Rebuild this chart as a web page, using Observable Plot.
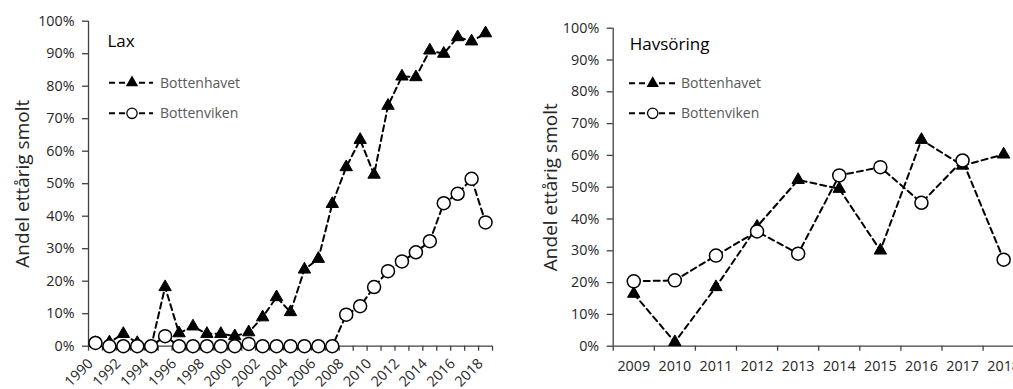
<!DOCTYPE html>
<html><head><meta charset="utf-8">
<script src="https://cdn.jsdelivr.net/npm/d3@7"></script>
<script src="https://cdn.jsdelivr.net/npm/@observablehq/plot@0.6"></script>
<style>
html,body{margin:0;padding:0;background:#fff;overflow:hidden;}
#wrap{position:relative;width:1013px;height:389px;overflow:hidden;background:#fff;}
#left{position:absolute;left:0;top:0;width:510px;}
#right{position:absolute;left:510px;top:0;width:520px;}
#wrap svg{max-width:none !important;}
</style></head><body>
<div id="wrap"><div id="left"></div><div id="right"></div></div>
<script>
// ---------- data ----------
const laxYears = [1990,1991,1992,1993,1994,1995,1996,1997,1998,1999,2000,2001,2002,2003,2004,2005,2006,2007,2008,2009,2010,2011,2012,2013,2014,2015,2016,2017,2018];
const laxBottenhavet = [1,1.2,3.8,1,0,18.2,4,6.1,3.8,3.8,3.1,4.3,8.9,15.1,10.5,23.6,26.9,43.8,55.1,63.5,52.8,74,83,82.8,91,90,95.1,93.8,96.3];
const laxBottenviken = [1,0,0,0,0,3.1,0,0,0,0,0,0.7,0,0,0,0,0,0,9.7,12.3,18.2,23.1,26.1,28.9,32.3,44,46.9,51.5,38.1];
const laxTickLabels = [1990,1992,1994,1996,1998,2000,2002,2004,2006,2008,2010,2012,2014,2016,2018];

const havYears = [2009,2010,2011,2012,2013,2014,2015,2016,2017,2018];
const havBottenhavet = [16.5,1.3,18.6,37.6,52.3,49.5,30.1,64.9,56.8,60.3];
const havBottenviken = [20.4,20.7,28.5,36.1,29.1,53.7,56.3,45.1,58.4,27.2];
const havTickLabels = havYears;

const yTicks = [0,10,20,30,40,50,60,70,80,90,100];
const seriesNames = ["Bottenhavet","Bottenviken"];
const yLabel = "Andel ettårig smolt";

// ---------- styles ----------
const FONT = "'Open Sans', sans-serif";
const AXIS = "#404040";
const TXT = "#262626";
const DASH = "6,4";
const TRI_R = 4.6, CIRC_R = 6.5;

function panel(o) {
  const rowsA = o.years.map((yr, i) => ({year: yr, v: o.a[i]}));
  const rowsB = o.years.map((yr, i) => ({year: yr, v: o.b[i]}));
  const bounds = o.years.map(yr => yr - 0.5).concat([o.years[o.years.length - 1] + 0.5]);
  const plot = Plot.plot({
    width: o.width, height: 389,
    marginLeft: o.ml, marginRight: o.mr, marginTop: o.mt, marginBottom: 389 - 345.7,
    style: {fontFamily: FONT, fontSize: "14.3px", color: TXT, background: "white", maxWidth: "none"},
    x: {type: "linear", domain: [bounds[0], bounds[bounds.length - 1]]},
    y: {domain: [0, 100]},
    marks: [
      Plot.ruleY([0], {stroke: AXIS, strokeWidth: 1.3}),
      Plot.ruleX([bounds[0]], {stroke: AXIS, strokeWidth: 1.3}),
      Plot.axisY({ticks: yTicks, tickFormat: d => d + "%", tickSize: 6, tickPadding: 8, label: null, stroke: AXIS, strokeWidth: 1.3}),
      Plot.axisX({ticks: bounds, tickFormat: () => "", tickSize: 5, label: null, stroke: AXIS, strokeWidth: 1.3}),
      o.rotate
        ? Plot.axisX({ticks: o.labels, tickFormat: d => String(d), tickSize: 0, tickPadding: 10, dx: -5, dy: 5, tickRotate: -45, label: null})
        : Plot.axisX({ticks: o.labels, tickFormat: d => String(d), tickSize: 0, tickPadding: 14, dy: 1, label: null}),
      Plot.line(rowsA, {x: "year", y: "v", stroke: "black", strokeWidth: 2, strokeDasharray: DASH}),
      Plot.dot(rowsA, {x: "year", y: "v", symbol: "triangle", r: TRI_R, fill: "black", stroke: "black", strokeWidth: 1}),
      Plot.line(rowsB, {x: "year", y: "v", stroke: "black", strokeWidth: 2, strokeDasharray: DASH}),
      Plot.dot(rowsB, {x: "year", y: "v", symbol: "circle", r: CIRC_R, fill: "white", stroke: "black", strokeWidth: 1.5}),
      Plot.text([yLabel], {frameAnchor: "left", rotate: -90, dx: -o.labelDx, fontSize: 19, fill: TXT, textAnchor: "middle", lineAnchor: "middle"}),
      Plot.text([o.title], {frameAnchor: "top-left", dx: o.titleDx, dy: o.titleDy, fontSize: 17, fill: "black", textAnchor: "start", lineAnchor: "middle"})
    ]
  });
  // legend
  const svg = d3.select(plot);
  const g = svg.append("g").attr("text-anchor", "start");
  const items = [{name: seriesNames[0], sym: "tri", y: o.legY[0]}, {name: seriesNames[1], sym: "circ", y: o.legY[1]}];
  items.forEach(it => {
    g.append("line").attr("x1", o.legX[0]).attr("x2", o.legX[2]).attr("y1", it.y).attr("y2", it.y)
      .attr("stroke", "black").attr("stroke-width", 2).attr("stroke-dasharray", DASH);
    if (it.sym === "tri") {
      g.append("path").attr("d", d3.symbol(d3.symbolTriangle, TRI_R * TRI_R * Math.PI)())
        .attr("transform", `translate(${o.legX[1]},${it.y})`).attr("fill", "black");
    } else {
      g.append("circle").attr("cx", o.legX[1]).attr("cy", it.y).attr("r", 5.2)
        .attr("fill", "white").attr("stroke", "black").attr("stroke-width", 1.3);
    }
    g.append("text").attr("x", o.legX[3]).attr("y", it.y).attr("dy", "0.35em").attr("text-anchor", "start")
      .attr("font-family", FONT).attr("font-size", 14).attr("fill", "#595959").text(it.name);
  });
  return plot;
}

document.getElementById("left").append(panel({
  years: laxYears, a: laxBottenhavet, b: laxBottenviken, labels: laxTickLabels, rotate: true,
  title: "Lax", width: 510, ml: 88, mr: 18, mt: 20.7, labelDx: 66, titleDx: 19, titleDy: 20,
  legX: [109, 132, 153, 160], legY: [82.7, 113.3]
}));
document.getElementById("right").append(panel({
  years: havYears, a: havBottenhavet, b: havBottenviken, labels: havTickLabels, rotate: false,
  title: "Havsöring", width: 520, ml: 102.7, mr: 6.3, mt: 27.7, labelDx: 62, titleDx: 16.5, titleDy: 16.3,
  legX: [119, 142.7, 165, 171], legY: [83.3, 113.3]
}));
</script>
</body></html>
